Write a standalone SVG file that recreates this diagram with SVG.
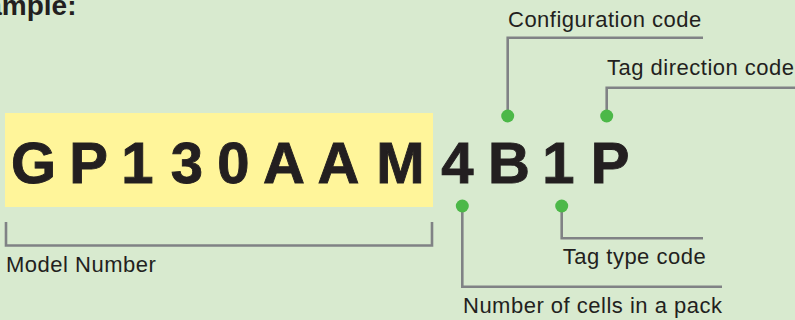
<svg xmlns="http://www.w3.org/2000/svg" width="795" height="320" viewBox="0 0 795 320">
<style>
.lbl{font-family:"Liberation Sans",Arial,sans-serif;font-size:22px;fill:#231f20;letter-spacing:0.5px}
.big{font-family:"Liberation Sans",Arial,sans-serif;font-size:58px;font-weight:bold;fill:#231f20;stroke:#231f20;stroke-width:0.9;text-anchor:middle}
.ln{fill:none;stroke:#808285;stroke-width:2.6}
.dot{fill:#4cb848}
</style>
<rect width="795" height="320" fill="#d8eacf"/>
<text x="-48" y="15" font-family="Liberation Sans,Arial,sans-serif" font-size="28" font-weight="bold" fill="#231f20">Example:</text>
<g id="model">
<rect x="5" y="113" width="428" height="94" fill="#fff59a"/>
<text class="big" y="182.5" x="33.5 88.5 137.5 187 233.5 284 338.5 400.5">GP130AAM</text>
</g>
<g id="suffix">
<text class="big" y="182.5" x="457.5 509 558.5 610">4B1P</text>
</g>
<g id="connectors">
<path class="ln" d="M6,222V245.5H432V222"/>
<path class="ln" d="M507.7,116V37.7H703"/>
<path class="ln" d="M606.7,116V87.7H795"/>
<path class="ln" d="M462.3,206V286.7H722"/>
<path class="ln" d="M561.7,206V238.3H703"/>
</g>
<g id="dots">
<circle class="dot" cx="507.7" cy="116" r="6.5"/>
<circle class="dot" cx="606.7" cy="116" r="6.5"/>
<circle class="dot" cx="462.3" cy="206" r="6.5"/>
<circle class="dot" cx="561.7" cy="206" r="6.5"/>
</g>
<g id="label-model"><text class="lbl" x="6" y="271.7">Model Number</text></g>
<g id="label-config"><text class="lbl" x="508" y="26.7">Configuration code</text></g>
<g id="label-tagdir"><text class="lbl" x="607" y="75">Tag direction code</text></g>
<g id="label-tagtype"><text class="lbl" x="562.7" y="264">Tag type code</text></g>
<g id="label-cells"><text class="lbl" x="463" y="312.7">Number of cells in a pack</text></g>
</svg>
